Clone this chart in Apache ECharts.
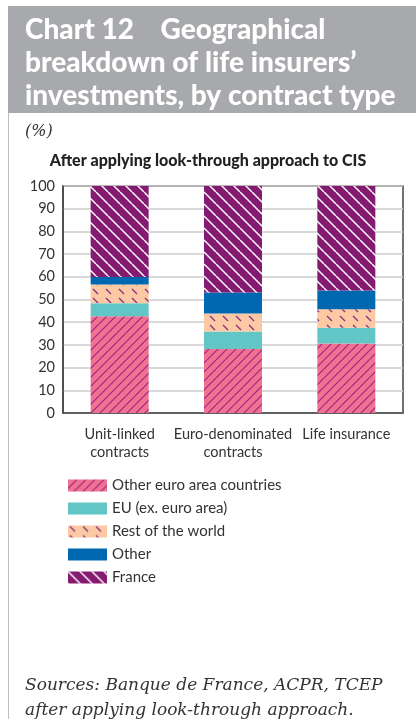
<!DOCTYPE html>
<html>
<head>
<meta charset="utf-8">
<script src="https://cdn.jsdelivr.net/npm/echarts@6/dist/echarts.min.js"></script>
<style>
  html, body { margin: 0; padding: 0; background: #ffffff; }
  #chart { width: 416px; height: 721px; }
</style>
</head>
<body>
<div id="chart"></div>
<script>
// Contract types on the x axis
const categories = ['Unit-linked\ncontracts', 'Euro-denominated\ncontracts', 'Life insurance'];

// Shares (%) stacked bottom to top
const otherEuroArea = [42.6, 28.2, 30.6];
const euExEuroArea = [5.8, 7.7, 7.0];
const restOfWorld = [8.2, 7.9, 8.1];
const otherRegion = [3.3, 9.3, 8.3];
const france = [40.1, 46.9, 46.0];

const yTicks = { min: 0, max: 100, interval: 10 };

// Hatched fills drawn on small canvas tiles
function hatch(size, bg, fg, width, dir, dash) {
  const c = document.createElement('canvas');
  c.width = size; c.height = size;
  const g = c.getContext('2d');
  g.fillStyle = bg; g.fillRect(0, 0, size, size);
  g.strokeStyle = fg; g.lineWidth = width; g.lineCap = 'butt';
  if (dash) g.setLineDash(dash);
  for (let k = -1; k <= 1; k++) {
    g.beginPath();
    if (dir === 'back') { g.moveTo(k * size, 0); g.lineTo(k * size + size, size); }
    else { g.moveTo(k * size, size); g.lineTo(k * size + size, 0); }
    g.stroke();
  }
  return { image: c, repeat: 'repeat' };
}

function sparseDashes(w, h, bg, fg) {
  const c = document.createElement('canvas');
  c.width = w; c.height = h;
  const g = c.getContext('2d');
  g.fillStyle = bg; g.fillRect(0, 0, w, h);
  g.strokeStyle = fg; g.lineWidth = 1.3;
  g.beginPath(); g.moveTo(2, 1); g.lineTo(7, 6); g.stroke();
  return { image: c, repeat: 'repeat' };
}

const pinkFill = hatch(9, '#F27092', '#8E2A7E', 1.1, 'fwd');
const tealFill = '#63C6C6';
const peachFill = sparseDashes(13, 9, '#FBC9A4', '#8E2A7E');
const blueFill = '#0067B1';
const franceFill = hatch(12, '#851A71', '#FFFFFF', 1.4, 'back');

const seriesDefs = [
  { name: 'Other euro area countries', data: otherEuroArea, color: pinkFill },
  { name: 'EU (ex. euro area)', data: euExEuroArea, color: tealFill },
  { name: 'Rest of the world', data: restOfWorld, color: peachFill },
  { name: 'Other', data: otherRegion, color: blueFill },
  { name: 'France', data: france, color: franceFill }
];

const chart = echarts.init(document.getElementById('chart'), null, { renderer: 'canvas' });

chart.setOption({
  animation: false,
  textStyle: { fontFamily: 'Lato' },
  graphic: [
    { type: 'rect', shape: { x: 8, y: 6, width: 408, height: 107 }, style: { fill: '#A7A9AC' }, z: 0 },
    { type: 'line', shape: { x1: 8.5, y1: 113, x2: 8.5, y2: 719 }, style: { stroke: '#BDBDBD', lineWidth: 1 } },
    { type: 'text', left: 25, top: 13, style: {
        text: 'Chart 12    Geographical\nbreakdown of life insurers’\ninvestments, by contract type',
        fill: '#FFFFFF', font: '900 28px Lato', lineHeight: 33 } },
    { type: 'text', left: 25, top: 124, style: {
        text: '(%)', fill: '#333333', font: 'italic 16px "DejaVu Serif"' } },
    { type: 'text', left: 25, top: 673, style: {
        text: 'Sources: Banque de France, ACPR, TCEP\nafter applying look-through approach.',
        fill: '#333333', font: 'italic 17px "DejaVu Serif"', lineHeight: 25 } }
  ],
  title: {
    text: 'After applying look-through approach to CIS',
    left: 'center', top: 148,
    textStyle: { fontFamily: 'Lato', fontWeight: 900, fontSize: 16, color: '#222222' }
  },
  legend: {
    orient: 'vertical', left: 63, top: 473,
    itemWidth: 39, itemHeight: 12, itemGap: 8,
    icon: 'rect',
    textStyle: { fontFamily: 'Lato', fontSize: 15, color: '#333333', lineHeight: 15 },
    data: seriesDefs.map(s => s.name)
  },
  grid: {
    left: 63, right: 13, top: 186, bottom: 308,
    show: true, borderColor: '#444444', borderWidth: 1.5, backgroundColor: 'transparent'
  },
  xAxis: {
    type: 'category', data: categories,
    axisLine: { lineStyle: { color: '#444444', width: 1.5 } },
    axisTick: { inside: true, length: 6, lineStyle: { color: '#444444', width: 1.5 } },
    axisLabel: { margin: 12, fontFamily: 'Lato', fontSize: 14.5, color: '#333333', lineHeight: 18, interval: 0 }
  },
  yAxis: {
    type: 'value', min: yTicks.min, max: yTicks.max, interval: yTicks.interval,
    axisLine: { show: true, lineStyle: { color: '#444444', width: 1.5 } },
    axisTick: { show: false },
    splitLine: { lineStyle: { color: '#CCCCCC', width: 1.5 } },
    axisLabel: { margin: 8, fontFamily: 'Lato', fontSize: 14.5, color: '#333333' }
  },
  series: seriesDefs.map(s => ({
    name: s.name, type: 'bar', stack: 'total', barWidth: 58,
    data: s.data,
    itemStyle: { color: s.color }
  }))
});
</script>
</body>
</html>
